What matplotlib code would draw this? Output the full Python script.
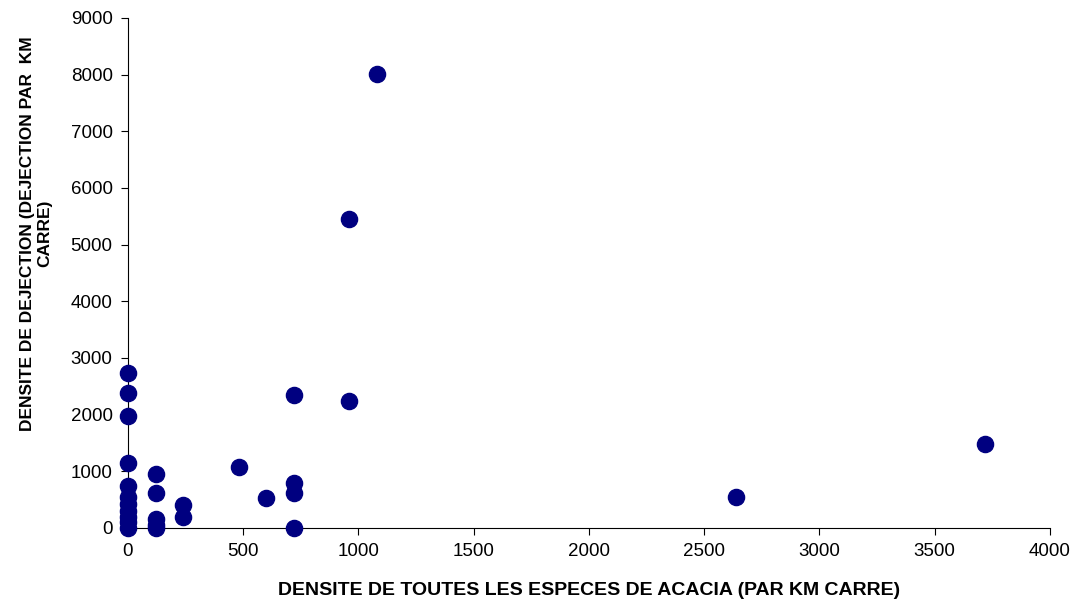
import matplotlib
matplotlib.use('Agg')
import matplotlib.pyplot as plt

plt.rcParams['font.family'] = ['Liberation Sans', 'DejaVu Sans']

# acacia density (per km2) vs dung density (per km2)
acacia = [0, 0, 0, 0, 0, 0, 0, 0, 0, 0, 0,
          120, 120, 120, 120, 120,
          240, 240,
          480, 600,
          720, 720, 720, 720,
          960, 960, 1080, 2640, 3720]
dejection = [2730, 2385, 1985, 1155, 740, 550, 420, 300, 200, 100, 0,
             955, 625, 150, 50, 0,
             400, 200,
             1070, 535,
             2345, 795, 625, 0,
             5450, 2245, 8020, 540, 1480]

fig = plt.figure(figsize=(10.8, 6.08), dpi=100)
ax = fig.add_axes([0.1185, 0.1316, 0.8535, 0.8388])
ax.scatter(acacia, dejection, s=135, c='#000080', zorder=3, clip_on=False)

ax.set_xlim(0, 4000)
ax.set_ylim(0, 9000)
ax.set_xticks(range(0, 4001, 500))
ax.set_yticks(range(0, 9001, 1000))
ax.spines['top'].set_visible(False)
ax.spines['right'].set_visible(False)
ax.tick_params(direction='out', length=5, labelsize=13.5, pad=6)
ax.set_xlabel('DENSITE DE TOUTES LES ESPECES DE ACACIA (PAR KM CARRE)',
              fontsize=14, fontweight='bold', labelpad=16)
ax.set_ylabel('DENSITE DE DEJECTION (DEJECTION PAR  KM\nCARRE)',
              fontsize=12.5, fontweight='bold')
ax.yaxis.set_label_coords(-0.082, 0.578)

fig.savefig('out.png', dpi=100)
